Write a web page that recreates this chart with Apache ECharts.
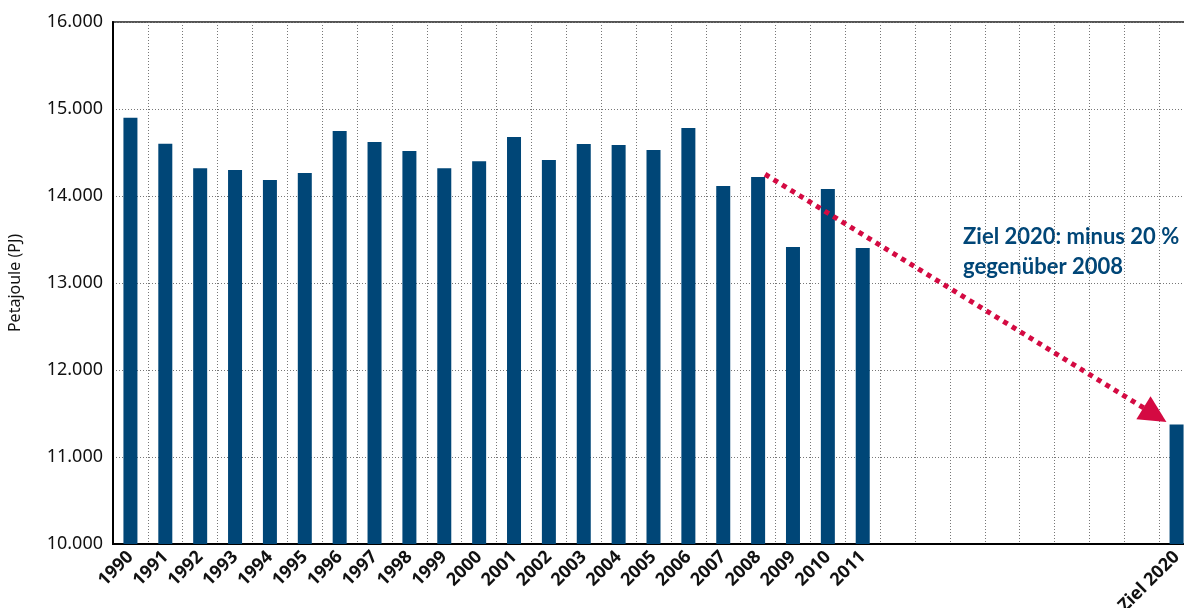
<!DOCTYPE html>
<html>
<head>
<meta charset="utf-8">
<script src="https://cdn.jsdelivr.net/npm/echarts@6/dist/echarts.min.js"></script>
<style>
  html, body { margin: 0; padding: 0; background: #fff; }
  #chart { width: 1184px; height: 608px; }
</style>
</head>
<body>
<div id="chart"></div>
<script>
// categories: 1990..2011, eight empty slots, then the target
const years = ['1990', '1991', '1992', '1993', '1994', '1995', '1996', '1997', '1998', '1999',
  '2000', '2001', '2002', '2003', '2004', '2005', '2006', '2007', '2008', '2009', '2010', '2011',
  '2012', '2013', '2014', '2015', '2016', '2017', '2018', '2019', 'Ziel 2020'];
const hiddenLabels = ['2012', '2013', '2014', '2015', '2016', '2017', '2018', '2019'];

// Primärenergieverbrauch in PJ
const consumption = [14900, 14600, 14320, 14300, 14185, 14265, 14747, 14620, 14517, 14320,
  14400, 14678, 14414, 14598, 14586, 14529, 14782, 14115, 14218, 13414, 14080, 13402,
  null, null, null, null, null, null, null, null, 11374];

const yTicks = [10000, 11000, 12000, 13000, 14000, 15000, 16000];

// arrow 2008 -> Ziel 2020, in (category index, PJ)
const arrowFrom = [18.2, 14250];
const arrowTo = [29.38, 11484];

const noteLines = ['Ziel 2020: minus 20\u202F%', 'gegenüber 2008'];

const BLUE = '#004677';
const RED = '#d40a42';
const FONT = '"Noto Sans", "DejaVu Sans", sans-serif';

const fmt = (v) => String(v).replace(/\B(?=(\d{3})+(?!\d))/g, '.');

const chart = echarts.init(document.getElementById('chart'));
chart.setOption({
  animation: false,
  grid: {
    left: 113, top: 22, bottom: 64, width: 1081,
    outerBoundsMode: 'none', containLabel: false,
    show: true, borderColor: '#555', borderWidth: 2
  },
  xAxis: [
    {
      type: 'category',
      data: years,
      axisLine: { lineStyle: { color: '#000', width: 2 } },
      axisTick: { show: false },
      axisLabel: {
        interval: 0, rotate: 45, margin: 10,
        color: '#111', fontFamily: FONT, fontWeight: 'bold', fontSize: 18,
        formatter: (v) => hiddenLabels.includes(v) ? '' : v
      },
      splitLine: { show: true, interval: 0, lineStyle: { color: '#777', type: [1, 2], width: 1 } }
    },
    {
      type: 'value', min: -0.5, max: years.length - 0.5, show: false
    }
  ],
  yAxis: {
    type: 'value',
    min: yTicks[0], max: yTicks[yTicks.length - 1], interval: 1000,
    name: 'Petajoule (PJ)',
    nameLocation: 'middle',
    nameGap: 90,
    nameTextStyle: { color: '#111', fontFamily: FONT, fontSize: 16 },
    axisLine: { show: true, onZero: false, lineStyle: { color: '#000', width: 2 } },
    axisTick: { show: false },
    axisLabel: { color: '#111', fontFamily: FONT, fontSize: 18, margin: 10, formatter: fmt },
    splitLine: { lineStyle: { color: '#777', type: [1, 2], width: 1 } }
  },
  series: [
    {
      type: 'bar',
      data: consumption,
      barWidth: 14,
      itemStyle: { color: BLUE }
    },
    {
      type: 'line',
      xAxisIndex: 1,
      data: [],
      silent: true,
      markLine: {
        silent: true,
        symbol: ['none', 'triangle'],
        symbolSize: 27,
        label: { show: false },
        lineStyle: { color: RED, width: 5, type: [5, 5], cap: 'butt' },
        itemStyle: { color: RED },
        data: [[{ coord: arrowFrom }, { coord: arrowTo }]]
      }
    }
  ],
  graphic: [
    {
      type: 'text',
      left: 963, top: 222,
      style: {
        text: noteLines.join('\n'),
        fill: BLUE,
        font: 'bold 22px Lato, ' + FONT,
        lineHeight: 30
      }
    }
  ]
});
</script>
</body>
</html>
